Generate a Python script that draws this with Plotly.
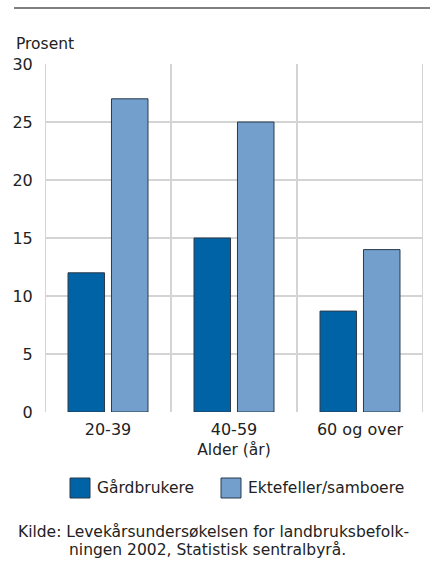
import plotly.graph_objects as go

# Data
kategorier = ['20-39', '40-59', '60 og over']
gardbrukere = [12, 15, 8.7]
ektefeller = [27, 25, 14]
serier = ['Gårdbrukere', 'Ektefeller/samboere']
y_ticks = [0, 5, 10, 15, 20, 25, 30]

farger = ['#0063a6', '#729fcb']
rutenett = '#d4d4d4'
font = 'DejaVu Sans, sans-serif'
tekst = 15.5

W, H = 434, 567
L, R, T, B = 45, 11, 64, 155
pw, ph = W - L - R, H - T - B


def px_x(x):
    # x in pixels -> paper
    return (x - L) / pw


def px_y(y):
    return 1 - (y - T) / ph


fig = go.Figure()
for navn, verdier, farge in zip(serier, [gardbrukere, ektefeller], farger):
    fig.add_trace(go.Bar(
        x=kategorier,
        y=verdier,
        name=navn,
        marker=dict(color=farge, line=dict(color='#2b3a4a', width=1)),
        showlegend=False,
    ))

shapes = []
# vertical grid lines between categories
for i in range(len(kategorier) + 1):
    shapes.append(dict(type='line', xref='x', yref='paper', x0=i - 0.5, x1=i - 0.5,
                       y0=0, y1=1, line=dict(color=rutenett, width=2), layer='below'))
# top rule
shapes.append(dict(type='line', xref='paper', yref='paper', x0=px_x(14), x1=px_x(430),
                   y0=px_y(8), y1=px_y(8), line=dict(color='#555555', width=1.5)))

annotations = [
    dict(text='Prosent', xref='paper', yref='paper', x=px_x(14), y=px_y(44),
         xanchor='left', yanchor='middle', showarrow=False, font=dict(size=tekst)),
    dict(text='Kilde: Levekårsundersøkelsen for landbruksbefolk-', xref='paper', yref='paper',
         x=px_x(16), y=px_y(532), xanchor='left', yanchor='middle', showarrow=False,
         font=dict(size=tekst)),
    dict(text='ningen 2002, Statistisk sentralbyrå.', xref='paper', yref='paper',
         x=px_x(67), y=px_y(550), xanchor='left', yanchor='middle', showarrow=False,
         font=dict(size=tekst)),
]

# legend drawn by hand to get the large squares
legend_x = [70, 221]
for navn, farge, lx in zip(serier, farger, legend_x):
    shapes.append(dict(type='rect', xref='paper', yref='paper', x0=px_x(lx), x1=px_x(lx + 20),
                       y0=px_y(498), y1=px_y(478), fillcolor=farge,
                       line=dict(color='#2b3a4a', width=1)))
    annotations.append(dict(text=navn, xref='paper', yref='paper', x=px_x(lx + 25), y=px_y(488),
                            xanchor='left', yanchor='middle', showarrow=False,
                            font=dict(size=tekst)))

fig.update_layout(
    width=W, height=H,
    margin=dict(l=L, r=R, t=T, b=B),
    paper_bgcolor='white', plot_bgcolor='white',
    font=dict(family=font, size=tekst, color='#222222'),
    barmode='group', bargap=0.31, bargroupgap=0.16,
    shapes=shapes, annotations=annotations,
    xaxis=dict(range=[-0.5, 2.5], showgrid=False, showline=False, zeroline=False,
               ticks='outside', ticklen=3, tickcolor='rgba(0,0,0,0)',
               tickfont=dict(size=16),
               title=dict(text='Alder (år)', font=dict(size=tekst), standoff=5)),
    yaxis=dict(range=[0, 30], tickvals=y_ticks, showgrid=True, gridcolor=rutenett, gridwidth=2,
               zeroline=False, showline=False, ticks='outside', ticklen=8,
               tickcolor='rgba(0,0,0,0)', tickfont=dict(size=16)),
)

# drop the default body margin so the figure fills the window exactly
fig.write_html('out.html', config={'displayModeBar': False},
               post_script="document.body.style.margin='0';")
